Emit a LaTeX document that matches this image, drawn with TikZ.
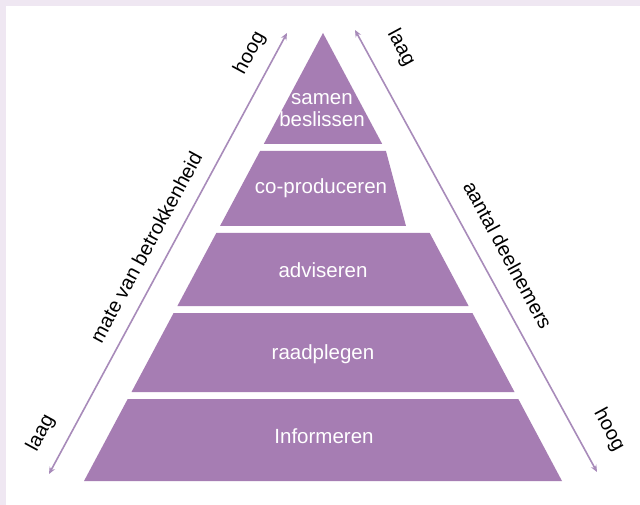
\documentclass[tikz,border=0pt]{standalone}
\usepackage{fontspec}
\setmainfont{Liberation Sans}
\usetikzlibrary{arrows.meta}
\definecolor{pyr}{HTML}{A67DB3}
\definecolor{arr}{HTML}{A88BBA}
\definecolor{frame}{HTML}{EFE7F2}
\tikzset{
  band/.style={fill=pyr, draw=none},
  bandlabel/.style={text=white, font=\fontsize{20.5}{22}\selectfont, align=center, inner sep=0pt},
  axislabel/.style={text=black, font=\fontsize{20}{23}\selectfont, inner sep=0pt},
  axisarrow/.style={draw=arr, line width=1.6pt, {Stealth[length=7pt,width=6pt]}-{Stealth[length=7pt,width=6pt]}}
}
\begin{document}
\begin{tikzpicture}[x=1pt,y=-1pt]
\useasboundingbox (0,0) rectangle (640,505);
\fill[frame] (0,0) rectangle (640,505);
\fill[white] (6,6) rectangle (640,505);
% bands
\fill[band] (323,33) -- (263.8,144) -- (382.2,144) -- cycle;
\fill[band] (260.05,151) -- (385.95,151) -- (405.97,226) -- (220.03,226) -- cycle;
\fill[band] (216.3,233) -- (429.7,233) -- (468.6,306) -- (177.4,306) -- cycle;
\fill[band] (173.6,313) -- (472.4,313) -- (514.5,392) -- (131.5,392) -- cycle;
\fill[band] (127.7,399) -- (518.3,399) -- (562,481) -- (84,481) -- cycle;
% band labels
\node[bandlabel] (b1) at (322,110) {samen\\beslissen};
\node[bandlabel] (b2) at (321,188) {co-produceren};
\node[bandlabel] (b3) at (323,270) {adviseren};
\node[bandlabel] (b4) at (323,354) {raadplegen};
\node[bandlabel] (b5) at (324,436) {Informeren};
% arrows
\coordinate (L1) at (49,474);
\coordinate (L2) at (287,33);
\coordinate (R1) at (355,30);
\coordinate (R2) at (597,472);
\draw[axisarrow] (L1) -- (L2);
\draw[axisarrow] (R1) -- (R2);
% axis labels
\node[axislabel, rotate=61.6] (lh) at (250,53) {hoog};
\node[axislabel, rotate=61.6] (lm) at (146,247) {mate van betrokkenheid};
\node[axislabel, rotate=61.6] (ll) at (41,433) {laag};
\node[axislabel, rotate=-61.6] (rl) at (401,48) {laag};
\node[axislabel, rotate=-61.6] (ra) at (508,255) {aantal deelnemers};
\node[axislabel, rotate=-61.6] (rh) at (609,430) {hoog};
\end{tikzpicture}
\end{document}
